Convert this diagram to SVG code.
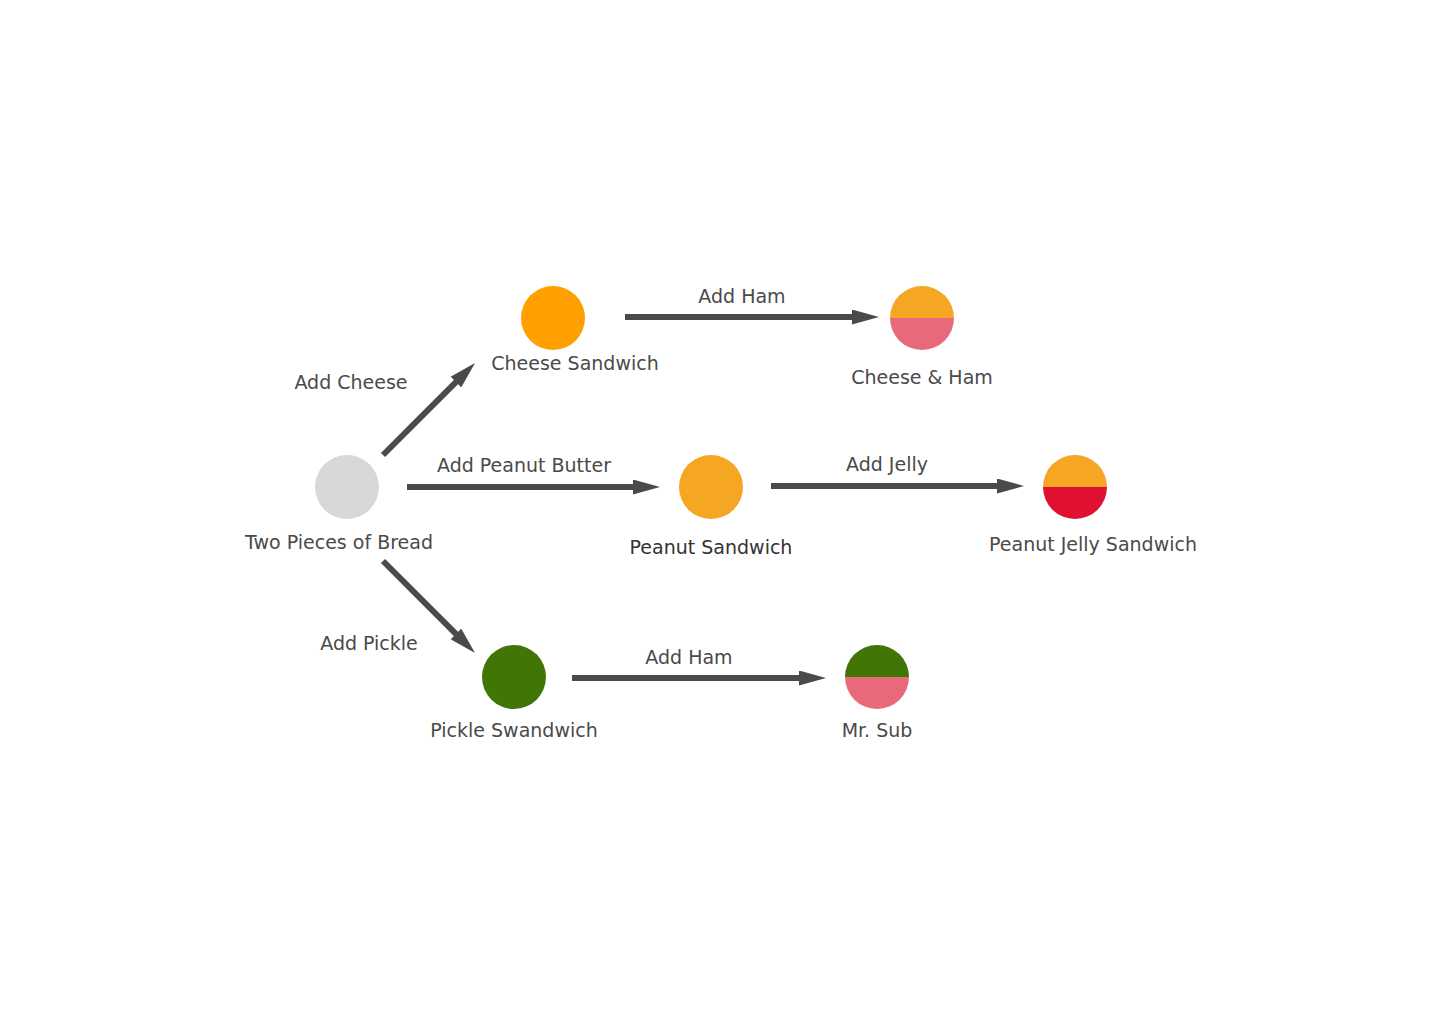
<svg xmlns="http://www.w3.org/2000/svg" width="1440" height="1024" viewBox="0 0 1440 1024">
<style>
text{font-family:"DejaVu Sans","Liberation Sans",sans-serif;font-size:19px;fill:#4a4a4a;text-anchor:middle}
.edge{stroke:#4a4a4a;stroke-width:6;fill:none;marker-end:url(#ah)}
</style>
<defs>
<marker id="ah" markerUnits="userSpaceOnUse" markerWidth="27" markerHeight="15" refX="7" refY="7.5" orient="auto">
<path d="M0,0 L27,7.5 L0,15 Z" fill="#4a4a4a"/>
</marker>
</defs>
<rect width="1440" height="1024" fill="#fff"/>
<g id="connectors">
<line class="edge" x1="383" y1="455" x2="460.9" y2="377.1"/>
<text x="351" y="389">Add Cheese</text>
<line class="edge" x1="407" y1="487" x2="640" y2="487"/>
<text x="524" y="472">Add Peanut Butter</text>
<line class="edge" x1="383" y1="561" x2="460.9" y2="638.9"/>
<text x="369" y="650">Add Pickle</text>
<line class="edge" x1="625" y1="317" x2="859" y2="317"/>
<text x="742" y="303">Add Ham</text>
<line class="edge" x1="771" y1="486" x2="1004" y2="486"/>
<text x="887" y="471">Add Jelly</text>
<line class="edge" x1="572" y1="678" x2="806" y2="678"/>
<text x="689" y="664">Add Ham</text>
</g>
<g id="bread">
<circle cx="347" cy="487" r="32" fill="#d8d8d8"/>
<text x="339" y="549">Two Pieces of Bread</text>
</g>
<g id="cheese">
<circle cx="553" cy="318" r="32" fill="#ffa000"/>
<text x="575" y="370">Cheese Sandwich</text>
</g>
<g id="cheeseham">
<path d="M890,318 A32,32 0 0 1 954,318 Z" fill="#f5a623"/>
<path d="M890,318 A32,32 0 0 0 954,318 Z" fill="#e86a7a"/>
<text x="922" y="384">Cheese &amp; Ham</text>
</g>
<g id="peanut">
<circle cx="711" cy="487" r="32" fill="#f5a623"/>
<text x="711" y="554" style="fill:#333">Peanut Sandwich</text>
</g>
<g id="peanutjelly">
<path d="M1043,487 A32,32 0 0 1 1107,487 Z" fill="#f5a623"/>
<path d="M1043,487 A32,32 0 0 0 1107,487 Z" fill="#e01030"/>
<text x="1093" y="551">Peanut Jelly Sandwich</text>
</g>
<g id="pickle">
<circle cx="514" cy="677" r="32" fill="#417505"/>
<text x="514" y="737">Pickle Swandwich</text>
</g>
<g id="mrsub">
<path d="M845,677 A32,32 0 0 1 909,677 Z" fill="#417505"/>
<path d="M845,677 A32,32 0 0 0 909,677 Z" fill="#e86a7a"/>
<text x="877" y="737">Mr. Sub</text>
</g>
</svg>
